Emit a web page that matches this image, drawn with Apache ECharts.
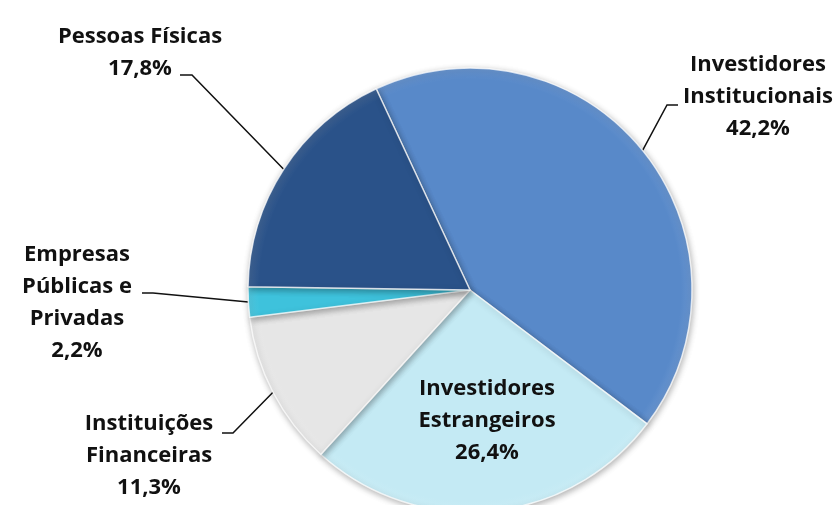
<!DOCTYPE html>
<html>
<head>
<meta charset="utf-8">
<script src="https://cdn.jsdelivr.net/npm/echarts@6/dist/echarts.min.js"></script>
<style>
  html, body { margin: 0; padding: 0; background: #fff; }
  #chart { width: 838px; height: 505px; }
</style>
</head>
<body>
<div id="chart"></div>
<script>
// categories in drawing order (clockwise from the top)
var categories = [
    'Investidores\nInstitucionais',
    'Investidores\nEstrangeiros',
    'Instituições\nFinanceiras',
    'Empresas\nPúblicas e\nPrivadas',
    'Pessoas Físicas'
];
var shares = [42.2, 26.4, 11.3, 2.2, 17.8];
var sliceColors = ['#5889c9', '#c4eaf4', '#e6e6e6', '#3ec2dc', '#2a5289'];

// where each label sits and where its leader line bends
var labelSpots = [
    { x: 758, y: 97, bend: [667, 105], end: [678, 105] },
    { x: 487, y: 421 },
    { x: 149, y: 456, bend: [233, 433], end: [222, 433] },
    { x: 77, y: 303, bend: [153, 293], end: [142, 293] },
    { x: 140, y: 53, bend: [192, 75], end: [180, 75] }
];

var pieCenter = [470, 290];
var pieRadius = 222;

var chart = echarts.init(document.getElementById('chart'));

var data = [];
for (var i = 0; i < categories.length; i++) {
    var item = {
        name: categories[i],
        value: shares[i],
        itemStyle: {
            color: {
                type: 'radial', global: true,
                x: pieCenter[0], y: pieCenter[1], r: pieRadius,
                colorStops: [
                    { offset: 0, color: sliceColors[i] },
                    { offset: 0.95, color: sliceColors[i] },
                    { offset: 1, color: echarts.color.lift(sliceColors[i], 0.1) }
                ]
            }
        }
    };
    if (i === 1) {
        item.label = { position: 'inside' };
        item.labelLine = { show: false };
    }
    data.push(item);
}

var option = {
    backgroundColor: '#ffffff',
    animation: false,
    series: [
        {
            type: 'pie',
            center: pieCenter,
            radius: pieRadius,
            startAngle: 115,
            clockwise: true,
            avoidLabelOverlap: false,
            minShowLabelAngle: 0,
            data: data,
            itemStyle: {
                borderColor: 'rgba(255,255,255,0.75)',
                borderWidth: 1.5,
                shadowBlur: 6,
                shadowColor: 'rgba(0,0,0,0.3)',
                shadowOffsetX: 1,
                shadowOffsetY: 2
            },
            label: {
                show: true,
                position: 'outside',
                color: '#111',
                fontFamily: 'Open Sans',
                fontWeight: 'bold',
                fontSize: 22,
                lineHeight: 32,
                align: 'center',
                formatter: function (p) {
                    return p.name + '\n' + p.value.toFixed(1).replace('.', ',') + '%';
                }
            },
            labelLine: {
                show: true,
                length: 20,
                length2: 10,
                smooth: false,
                lineStyle: { color: '#111', width: 1.5 }
            },
            labelLayout: function (params) {
                var s = labelSpots[params.dataIndex];
                var out = { x: s.x, y: s.y, align: 'center', verticalAlign: 'middle' };
                if (s.bend && params.labelLinePoints) {
                    out.labelLinePoints = [params.labelLinePoints[0], s.bend, s.end];
                }
                return out;
            }
        }
    ]
};

chart.setOption(option);
</script>
</body>
</html>
